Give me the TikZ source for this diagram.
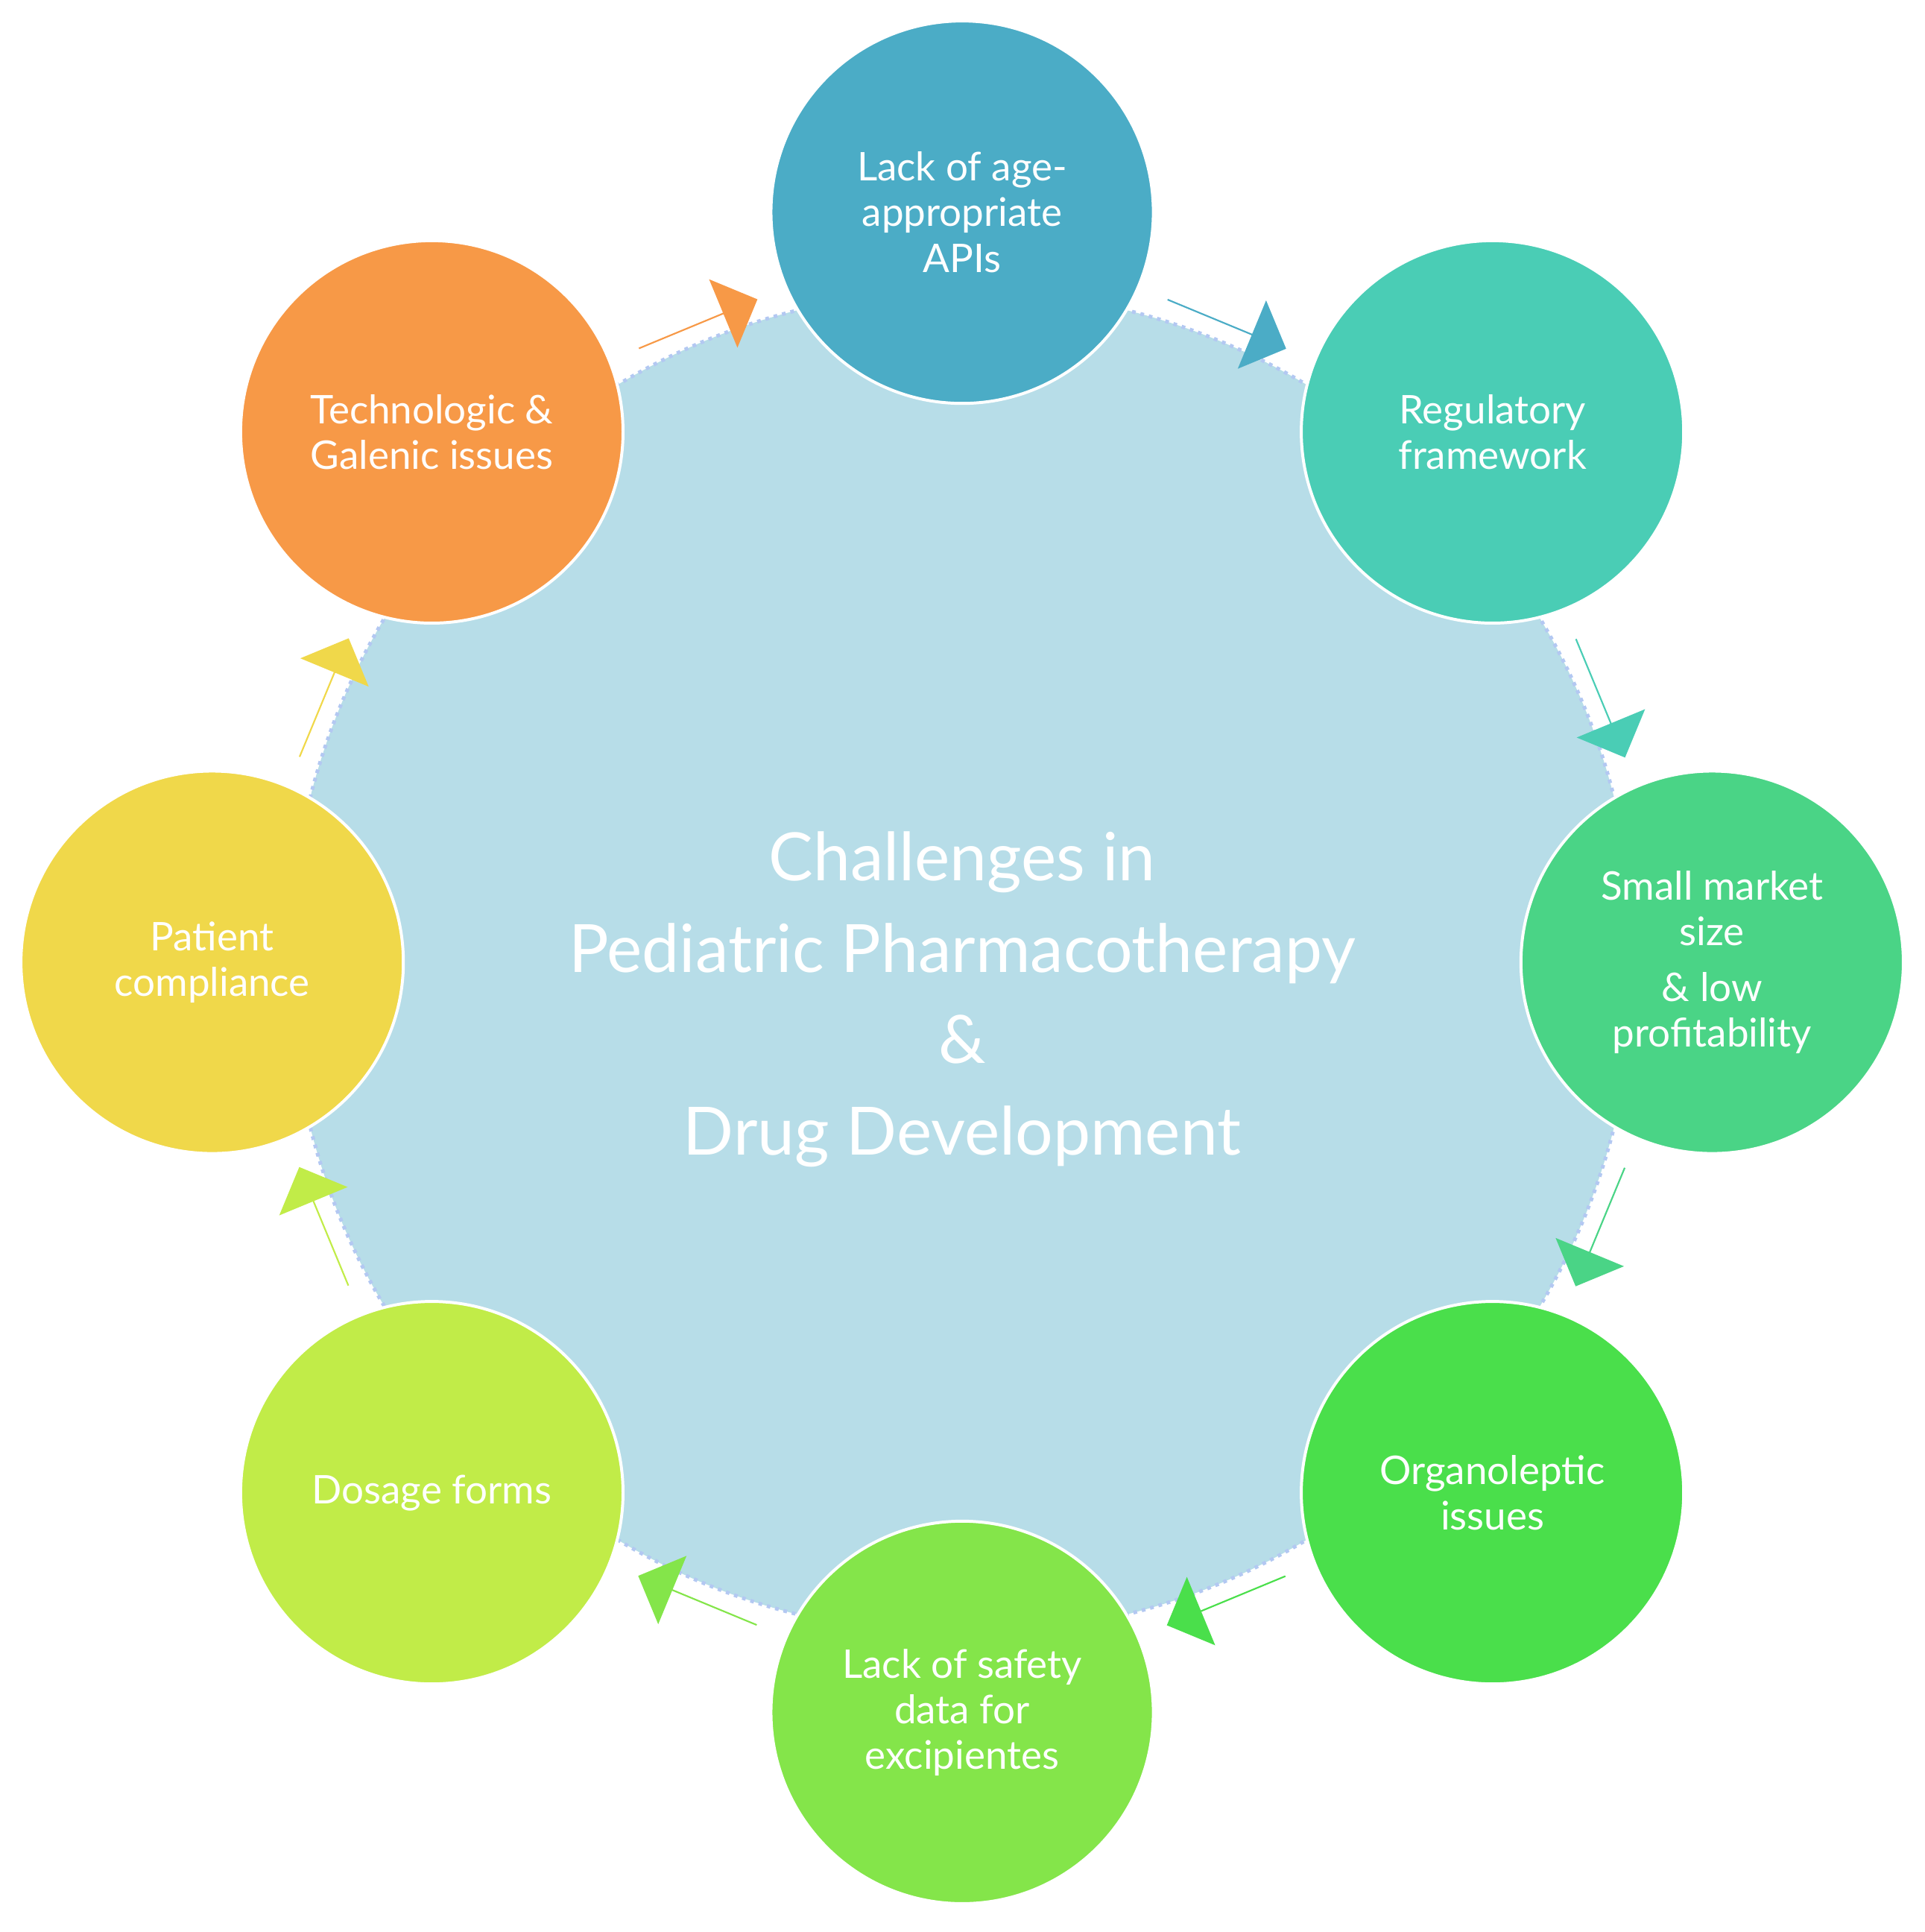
\documentclass[tikz,border=0pt]{standalone}
\usepackage{fontspec}
\setmainfont{Lato}
\usetikzlibrary{shapes.arrows}
\definecolor{cA}{HTML}{4BACC6}
\definecolor{cB}{HTML}{4ACDB5}
\definecolor{cC}{HTML}{4AD486}
\definecolor{cD}{HTML}{4ADF4B}
\definecolor{cE}{HTML}{84E54A}
\definecolor{cF}{HTML}{C1EC48}
\definecolor{cG}{HTML}{F0D84A}
\definecolor{cH}{HTML}{F79947}
\definecolor{big}{HTML}{B7DDE8}
\tikzset{
  item/.style={circle,draw=white,line width=1.2pt,minimum size=155pt,text=white,align=center,font=\fontsize{16}{18.5}\selectfont,inner sep=0pt},
  arr/.style={single arrow,minimum height=52pt,minimum width=30pt,single arrow head extend=9pt,inner sep=0pt}
}
\begin{document}
\begin{tikzpicture}[x=0.5pt,y=0.5pt]
\useasboundingbox (-780,-786) rectangle (780,780);
\node[circle,fill=big,draw=big!80!blue!70,dotted,line width=1.5pt,minimum size=545pt] (hub) at (0,0) {};
\node[text=white,align=center,font=\fontsize{27}{37}\selectfont] (title) at (0,-30) {Challenges in\\Pediatric Pharmacotherapy\\\&\\Drug Development};
\foreach \a/\c [count=\i] in {67.5/cA,22.5/cB,-22.5/cC,-67.5/cD,-112.5/cE,-157.5/cF,157.5/cG,112.5/cH}
  \node[arr,fill=\c,rotate=\a-90] (arr\i) at (\a:560) {};
\node[item,fill=cA] (n1) at (90:608) {Lack of age-\\appropriate\\APIs};
\node[item,fill=cB] (n2) at (45:608) {Regulatory\\framework};
\node[item,fill=cC] (n3) at (0:608) {Small market\\size\\[4pt]\& low\\profitability};
\node[item,fill=cD] (n4) at (-45:608) {Organoleptic\\issues};
\node[item,fill=cE] (n5) at (-90:608) {Lack of safety\\data for\\excipientes};
\node[item,fill=cF] (n6) at (-135:608) {Dosage forms};
\node[item,fill=cG] (n7) at (180:608) {Patient\\compliance};
\node[item,fill=cH] (n8) at (135:608) {Technologic \&\\Galenic issues};
\end{tikzpicture}
\end{document}
